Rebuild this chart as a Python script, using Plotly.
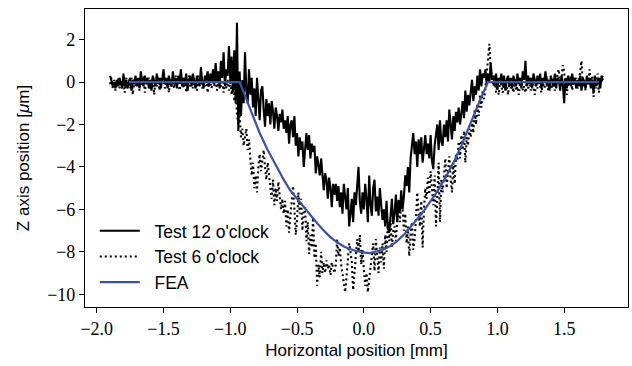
import numpy as np
import plotly.graph_objects as go

# ---- data ----
# sampling grid of the two measured profiles (mm)
x_start = -1.90
x_step = 0.01

# Test 12 o'clock (solid), z in micrometres, one value per 0.01 mm from -1.90
test12 = [
    0.3, 0.1, -0.2, 0.0, -0.3, 0.1, -0.2, 0.2, -0.1, -0.3,
    0.4, -0.2, 0.1, -0.3, 0.0, 0.2, -0.4, 0.1, -0.1, 0.3,
    -0.2, 0.2, -0.3, 0.5, 0.0, -0.2, 0.3, -0.1, 0.2, -0.3,
    0.1, -0.4, 0.3, 0.0, -0.2, 0.4, -0.1, 0.2, -0.3, 0.1,
    0.6, -0.1, 0.2, -0.3, 0.3, 0.0, -0.2, 0.5, -0.1, 0.2,
    -0.3, 0.3, 0.0, 0.6, -0.2, 0.2, -0.1, 0.4, -0.4, 0.1,
    0.3, -0.2, 0.4, 0.0, -0.3, 0.3, 0.1, -0.2, 0.7, 0.0,
    -0.3, 0.3, 0.1, 0.5, -0.2, 0.4, 0.0, 0.6, -0.1, 0.9,
    0.1, 0.5, -0.3, 1.0, 0.2, 1.4, -0.2, 0.6, 0.3, 1.7,
    0.0, 1.2, -0.5, 1.5, -1.0, 2.8, -2.3, 0.5, -1.6, 0.1,
    -1.0, 1.4, -0.4, -1.0, 0.6, -0.6, 0.2, -1.2, -0.3, -1.6,
    0.2, -1.0, -1.8, -0.4, -0.2, -1.3, -2.1, -0.8, -1.6, -1.0,
    -2.0, -0.9, -1.4, -2.2, -1.2, -1.6, -2.3, -1.5, -1.9, -1.3,
    -2.2, -1.8, -2.4, -1.6, -2.9, -2.0, -1.8, -2.6, -1.6, -3.0,
    -2.4, -3.5, -2.6, -3.2, -2.8, -4.0, -3.0, -2.4, -3.2, -2.5,
    -3.6, -2.9, -3.3, -3.0, -4.3, -3.5, -3.9, -4.4, -3.6, -4.2,
    -5.1, -4.3, -4.6, -5.5, -4.5, -5.0, -5.9, -4.8, -5.3, -4.8,
    -5.6, -4.9, -5.9, -5.2, -6.2, -4.8, -5.4, -6.0, -5.0, -6.8,
    -6.2, -5.5, -6.6, -5.2, -5.8, -4.9, -4.0, -5.6, -6.2, -5.2,
    -6.0, -4.8, -5.5, -6.6, -4.4, -5.8, -6.3, -5.0, -4.6, -6.1,
    -5.4, -6.3, -5.0, -5.8, -6.5, -6.0, -6.8, -5.6, -6.9, -7.1,
    -6.0, -5.5, -6.7, -6.2, -5.3, -6.6, -5.6, -6.1, -5.1, -6.0,
    -5.4, -4.4, -4.9, -4.0, -5.2, -3.6, -3.0, -2.4, -3.4, -2.8,
    -4.0, -2.7, -3.4, -2.6, -3.8, -3.1, -2.5, -3.4, -2.9, -3.6,
    -2.5, -3.7, -4.1, -3.0, -2.6, -2.0, -3.2, -1.8, -2.8, -3.0,
    -2.0, -2.6, -1.8, -2.8, -1.3, -2.2, -2.7, -1.6, -2.3, -1.4,
    -1.9, -1.2, -2.0, -1.5, -0.9, -1.7, -0.4, -1.4, -0.6, -1.1,
    -0.3, 0.1, -0.9, -0.2, -0.6, 0.3, -0.4, 0.6, -0.2, 0.4,
    0.2, 0.6, -0.1, 0.4, 0.0, 0.9, 0.1, 0.3, -0.2, 0.4,
    -0.3, 0.2, 0.0, 0.4, -0.2, 0.3, -0.4, 0.1, 0.3, -0.2,
    0.2, -0.3, 0.3, 0.0, -0.2, 0.4, -0.1, 0.2, -0.3, 0.5,
    0.1, 1.0, -0.2, 0.3, -0.1, 0.2, -0.3, 0.4, 0.0, -0.2,
    0.3, -0.1, 0.4, -0.3, 0.2, 0.0, 0.5, -0.2, 0.1, -0.4,
    0.3, 0.0, -0.2, 0.4, -0.3, 0.2, 0.1, -0.4, 0.3, -0.1,
    -1.0, 0.2, -0.3, 0.3, 0.0, -0.2, 0.4, -0.1, 0.2, -0.3,
    0.1, -0.2, 0.3, -0.4, 0.2, 0.0, -0.3, 0.3, -0.1, 0.2,
    -0.3, 0.1, -0.5, 0.3, -0.2, 0.0, 0.2, -0.3, 0.3, 0.1,
]

# Test 6 o'clock (dotted), same grid
test6 = [
    -0.1, 0.2, -0.3, 0.1, -0.4, 0.0, 0.2, -0.3, 0.1, -0.2,
    0.0, -0.5, 0.2, -0.1, 0.1, -0.3, 0.2, -0.6, 0.0, -0.2,
    0.2, -0.1, -0.4, 0.1, -0.2, 0.3, -0.5, 0.0, -0.1, 0.2,
    -0.3, 0.0, 0.2, -0.6, 0.1, -0.2, 0.0, -0.4, 0.2, -0.1,
    0.1, -0.3, 0.0, 0.2, -0.5, 0.1, -0.2, 0.0, -0.3, 0.3,
    -0.1, 0.2, -0.4, 0.0, 0.1, -0.3, 0.2, -0.5, 0.0, 0.3,
    -0.2, 0.1, -0.3, 0.2, 0.0, -0.4, 0.3, -0.1, 0.2, -0.3,
    0.1, -0.2, 0.3, -0.5, 0.0, 0.2, -0.3, 0.1, -0.2, 0.3,
    -0.4, 0.1, 0.3, -0.2, 0.0, -0.5, 0.2, -0.3, 0.1, -0.4,
    0.0, -0.6, 0.2, -0.9, -0.3, -1.5, -2.0, -1.6, -2.6, -2.2,
    -3.0, -2.5, -2.2, -3.2, -2.7, -3.6, -4.4, -3.8, -5.0, -4.4,
    -5.2, -4.0, -3.4, -4.2, -3.6, -3.2, -4.0, -4.6, -3.8, -4.4,
    -4.8, -5.5, -4.6, -5.8, -5.0, -5.6, -4.7, -5.3, -6.0, -5.5,
    -6.2, -5.6, -6.8, -6.0, -7.1, -6.3, -5.5, -4.9, -6.0, -7.2,
    -6.5, -5.2, -6.2, -5.5, -7.0, -6.0, -5.9, -7.5, -6.6, -8.1,
    -7.2, -7.8, -6.4, -8.3, -7.6, -9.6, -8.6, -9.2, -8.0, -9.0,
    -8.5, -9.0, -8.4, -8.8, -8.6, -9.1, -8.5, -8.8, -9.0, -8.6,
    -7.4, -8.2, -7.8, -8.6, -9.0, -9.4, -9.9, -9.2, -8.4, -7.6,
    -8.0, -8.5, -9.8, -9.0, -8.3, -7.4, -8.0, -7.2, -8.6, -7.9,
    -8.8, -9.6, -9.0, -9.9, -9.3, -8.7, -8.4, -7.6, -8.9, -7.4,
    -8.2, -9.0, -7.8, -8.5, -7.6, -8.8, -7.2, -8.0, -6.6, -7.5,
    -6.5, -7.8, -7.0, -6.8, -7.5, -6.2, -5.5, -6.6, -5.4, -6.0,
    -7.0, -6.2, -7.6, -6.8, -8.2, -7.2, -6.6, -7.9, -7.4, -6.5,
    -5.2, -6.2, -6.8, -5.6, -7.8, -6.0, -5.0, -5.5, -4.5, -5.3,
    -4.2, -5.0, -5.8, -4.4, -6.8, -5.5, -3.8, -6.6, -4.6, -5.2,
    -4.5, -3.6, -5.0, -4.0, -3.5, -4.6, -5.2, -3.8, -4.8, -3.4,
    -3.7, -2.8, -3.6, -2.5, -3.2, -2.3, -3.8, -2.6, -3.0, -2.2,
    -2.6, -1.8, -2.4, -1.3, -2.0, -1.0, -1.6, -0.6, -1.2, -0.4,
    -0.8, -0.3, 0.4, 1.2, 1.8, 0.6, 0.2, -0.2, 0.3, -0.5,
    -0.2, -0.6, 0.1, -0.3, -0.5, 0.0, -0.4, -0.2, -0.6, 0.1,
    -0.3, -0.1, -0.5, 0.0, -0.4, -0.2, -0.6, -0.1, 0.1, -0.4,
    -0.2, -0.5, 0.0, -0.3, -0.1, -0.4, 0.2, -0.3, -0.6, 0.0,
    -0.3, 0.1, -0.2, -0.5, 0.0, -0.3, -0.1, 0.3, -0.4, -0.2,
    0.0, -0.3, 0.2, -0.4, -0.1, 0.4, 0.6, -0.2, 0.1, 0.8,
    0.5, -0.3, -0.6, 0.0, -0.2, 0.3, -0.4, 0.1, -0.1, 0.2,
    -0.3, 0.0, 0.4, 1.0, -0.2, 0.1, -0.4, 0.2, -0.1, 0.6,
    -0.2, 0.3, -0.7, 0.1, -0.3, 0.4, -0.5, 0.2, 0.0, 0.3,
]

# FEA profile
fea_x = [-1.76, -0.93, -0.88, -0.83, -0.78, -0.72, -0.667, -0.60, -0.554, -0.50,
         -0.45, -0.404, -0.35, -0.30, -0.255, -0.20, -0.15, -0.105, -0.05, 0.01,
         0.045, 0.10, 0.157, 0.20, 0.245, 0.307, 0.35, 0.40, 0.457, 0.50,
         0.545, 0.607, 0.65, 0.68, 0.73, 0.79, 0.83, 0.87, 0.93, 1.76]
fea_z = [0.0, 0.0, -0.8, -1.62, -2.4, -3.2, -3.85, -4.6, -5.08, -5.5,
         -5.9, -6.26, -6.65, -7.0, -7.28, -7.55, -7.75, -7.87, -7.97, -8.04,
         -8.06, -7.97, -7.85, -7.72, -7.52, -7.15, -6.85, -6.45, -6.0, -5.62,
         -5.2, -4.55, -4.05, -3.68, -3.0, -2.05, -1.45, -0.85, 0.0, 0.0]

x_ticks = [-2.0, -1.5, -1.0, -0.5, 0.0, 0.5, 1.0, 1.5]
y_ticks = [-10, -8, -6, -4, -2, 0, 2]
series_names = ["Test 12 o'clock", "Test 6 o'clock", "FEA"]

x_meas12 = x_start + x_step * np.arange(len(test12))
x_meas6 = x_start + x_step * np.arange(len(test6))

SANS = "Liberation Sans"
SERIF = "Liberation Serif"
PAD = "\u00a0\u00a0"

fig = go.Figure()
fig.add_trace(go.Scatter(x=x_meas12, y=test12, mode="lines", name=PAD + series_names[0],
                         line=dict(color="black", width=2.1)))
fig.add_trace(go.Scatter(x=x_meas6, y=test6, mode="lines", name=PAD + series_names[1],
                         line=dict(color="black", width=2.1, dash="2px,3px")))
fig.add_trace(go.Scatter(x=fea_x, y=fea_z, mode="lines", name=PAD + series_names[2],
                         line=dict(color="#3a53a4", width=2.2)))

axis_common = dict(
    showline=True, mirror=True, linecolor="black", linewidth=1.1,
    ticks="outside", ticklen=5, tickwidth=1.1, tickcolor="black",
    showgrid=False, zeroline=False,
    tickfont=dict(family=SERIF, size=18, color="black"),
)

fig.update_xaxes(range=[-2.088, 1.978], tickvals=x_ticks, tickformat=".1f",
                 title=dict(text="Horizontal position [mm]",
                            font=dict(family=SANS, size=17, color="black"),
                            standoff=6),
                 **axis_common)
fig.update_yaxes(range=[-10.6, 3.443], tickvals=y_ticks, tickformat="d",
                 title=dict(text="Z axis position [<i>μ</i>m]",
                            font=dict(family=SANS, size=17, color="black"),
                            standoff=13),
                 **axis_common)

fig.update_layout(
    width=632, height=366,
    margin=dict(l=85, r=4, t=9, b=59, autoexpand=False),
    paper_bgcolor="white", plot_bgcolor="white",
    showlegend=True,
    legend=dict(x=0.018, y=0.316, xanchor="left", yanchor="top",
                bgcolor="rgba(0,0,0,0)", itemwidth=40,
                font=dict(family=SANS, size=17.5, color="black"),
                tracegroupgap=0),
)

fig.write_html("out.html")
